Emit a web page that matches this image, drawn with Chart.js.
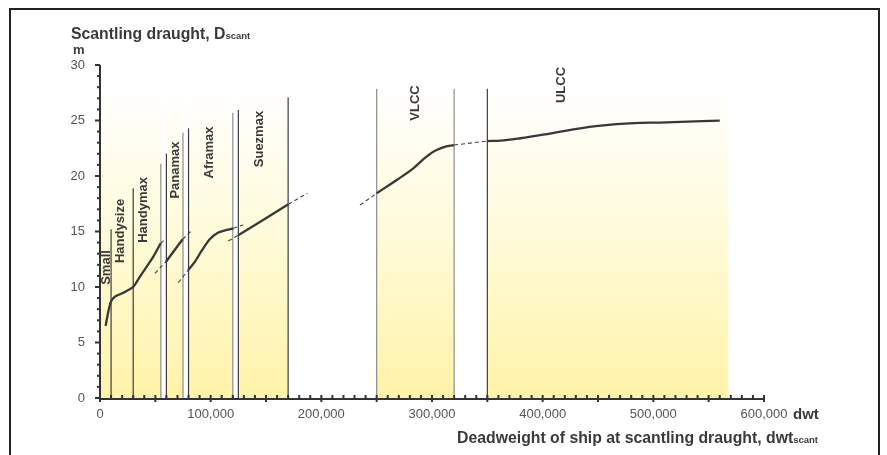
<!DOCTYPE html>
<html>
<head>
<meta charset="utf-8">
<script src="https://cdn.jsdelivr.net/npm/chart.js@4/dist/chart.umd.min.js"></script>
<style>
  html, body { margin: 0; padding: 0; background: #fff; }
  #wrap { width: 887px; height: 455px; position: relative; }
</style>
</head>
<body>
<div id="wrap"><canvas id="c"></canvas></div>
<script>
// Scantling draught against deadweight, by ship size class

// class boundary lines: dwt and height of line (m)
const boundaryDwt = [10000, 30000, 55000, 60000, 75000, 80000, 120000, 125000, 170000, 250000, 320000, 350000];
const boundaryTop = [15.2, 18.9, 21.1, 22.0, 23.9, 24.3, 25.7, 25.95, 27.1, 27.85, 27.85, 27.85];
const boundaryGrey = [false, false, true, false, true, false, true, false, false, true, true, false];

// shaded dwt ranges
const bandFrom = [0, 60000, 80000, 125000, 250000, 350000];
const bandTo = [55000, 75000, 120000, 170000, 320000, 568000];

const classNames = ['Small', 'Handysize', 'Handymax', 'Panamax', 'Aframax', 'Suezmax', 'VLCC', 'ULCC'];
const classDwt = [5400, 18100, 38900, 67800, 98800, 143900, 284600, 416600];
const classDraught = [11.76, 15.05, 16.94, 20.54, 22.12, 23.33, 26.58, 28.2];

// solid curve pieces
const smallDwt = [5100, 7500, 9900, 13600, 18100, 24100, 30100, 36100, 42200, 48200, 54800];
const smallDraught = [6.5, 7.78, 8.68, 9.13, 9.34, 9.64, 10.03, 10.93, 11.83, 12.73, 13.94];
const panamaxDwt = [59600, 74700];
const panamaxDraught = [12.28, 14.3];
const aframaxDwt = [79800, 85800, 91900, 99400, 106900, 114500, 120500];
const aframaxDraught = [11.53, 12.28, 13.27, 14.32, 14.9, 15.14, 15.29];
const suezmaxDwt = [125300, 170200];
const suezmaxDraught = [14.68, 17.45];
const vlccDwt = [250000, 268100, 283100, 292100, 301200, 310200, 319900];
const vlccDraught = [18.44, 19.64, 20.69, 21.5, 22.19, 22.58, 22.79];
const ulccDwt = [350000, 362000, 380000, 404000, 434000, 464000, 512000, 560000];
const ulccDraught = [23.15, 23.18, 23.4, 23.78, 24.3, 24.65, 24.84, 24.98];

// dashed extensions [dwt start, dwt end], [draught start, draught end]
const dashDwt = [
  [54800, 59600], [49700, 59600], [74700, 82800], [70800, 79800], [120500, 129500],
  [115900, 125300], [170200, 187300], [234900, 250000], [319900, 350000]
];
const dashDraught = [
  [13.94, 14.39], [11.23, 12.28], [14.3, 15.07], [10.39, 11.53], [15.29, 15.59],
  [14.14, 14.68], [17.45, 18.44], [17.39, 18.44], [22.79, 23.15]
];

const xTicks = [0, 100000, 200000, 300000, 400000, 500000, 600000];
const yTicks = [0, 5, 10, 15, 20, 25, 30];

const INK = '#3a3a3a';
const FONT = '"Liberation Sans", Arial, sans-serif';

function pts(xs, ys) {
  return xs.map((x, i) => ({ x: x, y: ys[i] }));
}

function bandFill(ctx) {
  const area = ctx.chart.chartArea;
  if (!area) return 'rgba(255,244,170,1)';
  const yS = ctx.chart.scales.y;
  const g = ctx.chart.ctx.createLinearGradient(0, area.bottom, 0, yS.getPixelForValue(28));
  g.addColorStop(0, 'rgb(255,243,168)');
  g.addColorStop(0.5, 'rgb(255,250,215)');
  g.addColorStop(1, 'rgb(255,255,255)');
  return g;
}

const datasets = [];

// curves
[[smallDwt, smallDraught], [panamaxDwt, panamaxDraught], [aframaxDwt, aframaxDraught],
 [suezmaxDwt, suezmaxDraught], [vlccDwt, vlccDraught], [ulccDwt, ulccDraught]].forEach(s => {
  datasets.push({
    data: pts(s[0], s[1]),
    borderColor: '#383838',
    borderWidth: 2.3,
    cubicInterpolationMode: 'monotone',
    pointRadius: 0,
    fill: false,
    order: 1
  });
});

dashDwt.forEach((d, i) => {
  datasets.push({
    data: pts(d, dashDraught[i]),
    borderColor: '#444',
    borderWidth: 1.1,
    borderDash: [4, 3],
    pointRadius: 0,
    fill: false,
    order: 1
  });
});

// boundary lines
boundaryDwt.forEach((x, i) => {
  datasets.push({
    data: [{ x: x, y: 0 }, { x: x, y: boundaryTop[i] }],
    borderColor: boundaryGrey[i] ? '#8c8c8c' : '#3c3c3c',
    borderWidth: 1.2,
    pointRadius: 0,
    fill: false,
    order: 2
  });
});

// shaded bands
bandFrom.forEach((x0, i) => {
  datasets.push({
    data: [{ x: x0, y: 28 }, { x: bandTo[i], y: 28 }],
    borderWidth: 0,
    borderColor: 'rgba(0,0,0,0)',
    backgroundColor: bandFill,
    pointRadius: 0,
    fill: 'origin',
    order: 3
  });
});

const decor = {
  id: 'decor',
  afterDatasetsDraw(chart) {
    const c = chart.ctx;
    const xs = chart.scales.x, ys = chart.scales.y;
    const L = xs.getPixelForValue(0), R = xs.getPixelForValue(600000);
    const B = ys.getPixelForValue(0), T = ys.getPixelForValue(30);
    c.save();

    // outer frame
    c.strokeStyle = '#222';
    c.lineWidth = 2;
    c.strokeRect(10, 9, 869, 500);

    // axes
    c.strokeStyle = '#333';
    c.lineWidth = 2;
    c.beginPath();
    c.moveTo(L, T); c.lineTo(L, B + 1); c.lineTo(R, B + 1);
    c.stroke();

    // y ticks
    for (let v = 0; v <= 30; v++) {
      const p = ys.getPixelForValue(v);
      c.beginPath();
      c.moveTo(L, p);
      c.lineTo(L - (v % 5 === 0 ? 5 : 3), p);
      c.stroke();
    }
    // x ticks
    for (let v = 0; v <= 600000; v += 10000) {
      const p = xs.getPixelForValue(v);
      c.beginPath();
      c.moveTo(p, B - 3);
      c.lineTo(p, v % 50000 === 0 ? B + 4 : B);
      c.stroke();
    }

    // class labels (rotated)
    c.fillStyle = INK;
    c.font = 'bold 13px ' + FONT;
    c.textAlign = 'center';
    c.textBaseline = 'middle';
    classNames.forEach((n, i) => {
      c.save();
      c.translate(xs.getPixelForValue(classDwt[i]), ys.getPixelForValue(classDraught[i]));
      c.rotate(-Math.PI / 2);
      c.fillText(n, 0, 0);
      c.restore();
    });

    // titles
    c.textAlign = 'left';
    c.textBaseline = 'alphabetic';
    c.font = 'bold 15.8px ' + FONT;
    const t1 = 'Scantling draught, D';
    c.fillText(t1, 71, 39);
    const w1 = c.measureText(t1).width;
    c.font = 'bold 9.5px ' + FONT;
    c.fillText('scant', 71 + w1, 39);
    c.font = 'bold 13px ' + FONT;
    c.fillText('m', 73, 54);

    c.font = 'bold 15px ' + FONT;
    c.fillText('dwt', 793, 419);

    const t2 = 'Deadweight of ship at scantling draught, dwt';
    c.font = 'bold 9.5px ' + FONT;
    const ws = c.measureText('scant').width;
    c.font = 'bold 15.8px ' + FONT;
    const w2 = c.measureText(t2).width;
    const x2 = 818 - ws - w2;
    c.fillText(t2, x2, 442.5);
    c.font = 'bold 9.5px ' + FONT;
    c.fillText('scant', x2 + w2, 442.5);

    c.restore();
  }
};

new Chart(document.getElementById('c'), {
  type: 'line',
  data: { datasets: datasets },
  plugins: [decor],
  options: {
    responsive: true,
    maintainAspectRatio: false,
    animation: false,
    layout: { padding: { left: 0, top: 65, right: 123, bottom: 0 } },
    plugins: {
      legend: { display: false },
      title: { display: false },
      tooltip: { enabled: false }
    },
    scales: {
      x: {
        type: 'linear',
        min: 0,
        max: 600000,
        afterFit: s => { s.height = 57; },
        afterBuildTicks: s => { s.ticks = xTicks.map(v => ({ value: v })); },
        grid: { display: false, drawTicks: false },
        border: { display: false },
        ticks: {
          padding: 9,
          color: '#555',
          font: { family: FONT, size: 13 },
          maxRotation: 0,
          callback: v => v.toLocaleString('en-US')
        }
      },
      y: {
        type: 'linear',
        min: 0,
        max: 30,
        afterFit: s => { s.width = 100; },
        afterBuildTicks: s => { s.ticks = yTicks.map(v => ({ value: v })); },
        grid: { display: false, drawTicks: false },
        border: { display: false },
        ticks: {
          padding: 15,
          color: '#555',
          font: { family: FONT, size: 13 }
        }
      }
    }
  }
});
</script>
</body>
</html>
